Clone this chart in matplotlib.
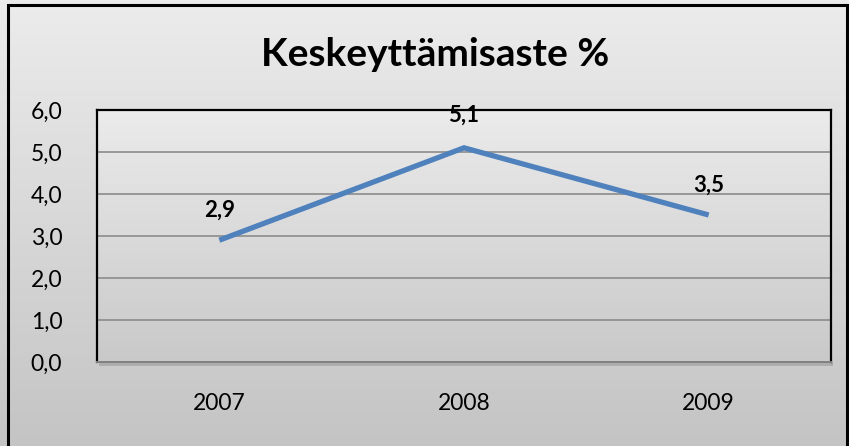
import matplotlib.pyplot as plt
import numpy as np
from matplotlib.patches import Rectangle
from matplotlib.colors import LinearSegmentedColormap

# Data
years = ['2007', '2008', '2009']
rates = [2.9, 5.1, 3.5]
label_offsets = [30, 33, 30]  # px above point
title = 'Keskeyttämisaste %'

plt.rcParams['font.family'] = ['Lato', 'DejaVu Sans']

W, H = 849, 446
fig = plt.figure(figsize=(W / 100, H / 100), dpi=100)

# Chart-area background gradient
bg = fig.add_axes([0, 0, 1, 1])
grad = np.linspace(0, 1, 256).reshape(-1, 1)
cmap_bg = LinearSegmentedColormap.from_list('bg', ['#ececec', '#c4c4c4'])
bg.imshow(grad, aspect='auto', cmap=cmap_bg, extent=[0, 1, 0, 1], origin='upper')
bg.set_xlim(0, 1)
bg.set_ylim(0, 1)
bg.axis('off')
# outer frame (left, top, right)
bg.plot([8 / W, 8 / W, 847 / W, 847 / W], [0, 1 - 5 / H, 1 - 5 / H, 0],
        color='black', linewidth=2.2, solid_joinstyle='miter')

fig.text(435 / W, 1 - 55 / H, title, ha='center', va='center',
         fontsize=28, fontweight='bold')

ax = fig.add_axes([97 / W, 1 - 362 / H, (831 - 97) / W, (362 - 110) / H])
cmap_pa = LinearSegmentedColormap.from_list('pa', ['#ebebeb', '#c9c9c9'])
ax.imshow(grad, aspect='auto', cmap=cmap_pa, extent=[0, 1, 0, 1],
          transform=ax.transAxes, origin='upper', zorder=0)

x = np.arange(len(years))
ax.set_xlim(-0.5, len(years) - 0.5)
ax.set_ylim(0, 6)
ax.set_yticks(np.arange(0, 7, 1))
ax.set_yticklabels([f'{v:.1f}'.replace('.', ',') for v in np.arange(0, 7, 1)])
ax.set_xticks(x)
ax.set_xticklabels(years)
ax.tick_params(length=0, labelsize=16.5, colors='black')
ax.tick_params(axis='y', pad=25)
ax.tick_params(axis='x', pad=22)

for v in range(1, 6):
    ax.axhline(v, color='#8c8c8c', linewidth=1.2, zorder=1)

ax.plot(x, rates, color='#4f81bd', linewidth=3.8, solid_capstyle='butt',
        solid_joinstyle='miter', zorder=3)

for xi, yi, off in zip(x, rates, label_offsets):
    ax.annotate(f'{yi:.1f}'.replace('.', ','), (xi, yi), xytext=(0, off),
                textcoords='offset pixels', ha='center', va='center',
                fontsize=16, fontweight='bold', zorder=4)

for side in ['left', 'right', 'top']:
    ax.spines[side].set_color('black')
    ax.spines[side].set_linewidth(1.6)
ax.spines['bottom'].set_color('#808080')
ax.spines['bottom'].set_linewidth(1.4)

# soft shadow below the plot area
bg.add_patch(Rectangle((99 / W, 1 - 366 / H), (734) / W, 4 / H,
                       color='#9a9a9a', alpha=0.6, linewidth=0, zorder=1))

fig.savefig('out.png', dpi=100)
